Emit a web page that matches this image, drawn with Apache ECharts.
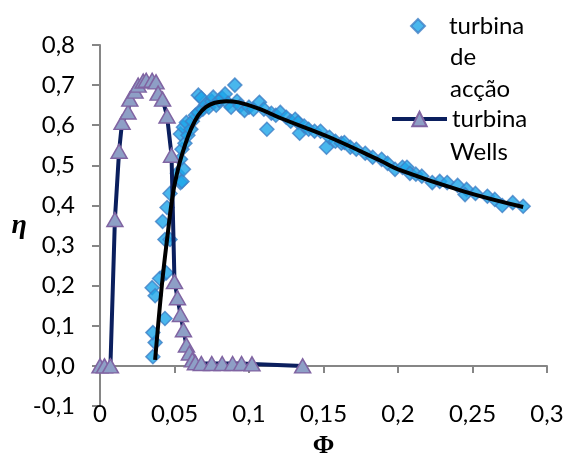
<!DOCTYPE html>
<html>
<head>
<meta charset="utf-8">
<script src="https://cdn.jsdelivr.net/npm/echarts@6/dist/echarts.min.js"></script>
<style>
html,body{margin:0;padding:0;background:#fff;}
#chart{width:564px;height:459px;}
</style>
</head>
<body>
<div id="chart"></div>
<script>
// ---- Data ----
var actionName = 'turbina de acção';
var wellsName = 'turbina Wells';

var actionPhi = [0.0355,0.037,0.0355,0.0436,0.035,0.037,0.040,0.0445,0.0436,0.047,0.042,0.045,0.047,0.052,0.054,0.055,0.056,0.054,0.055,0.054,0.056,0.058,
  0.057,0.059,0.061,0.062,0.064,0.066,0.066,0.068,0.069,0.071,0.073,0.075,0.076,0.078,0.080,0.082,0.084,0.086,0.088,0.0905,0.092,0.094,0.097,0.100,0.103,0.107,0.110,0.112,0.115,0.118,0.121,0.125,0.128,0.131,0.133,0.134,0.137,0.140,0.144,0.148,0.152,
  0.154,0.158,0.162,0.164,0.168,0.172,0.178,0.183,0.189,0.193,0.198,0.203,0.206,0.208,0.212,0.216,0.223,0.228,0.233,0.240,0.246,0.245,0.252,0.260,0.265,0.270,0.277,0.284];
var actionEta = [0.023,0.058,0.083,0.118,0.195,0.175,0.218,0.232,0.315,0.315,0.36,0.395,0.43,0.48,0.457,0.46,0.49,0.515,0.54,0.578,0.595,0.607,
  0.555,0.575,0.59,0.61,0.625,0.632,0.675,0.668,0.64,0.652,0.645,0.66,0.67,0.65,0.662,0.668,0.678,0.655,0.645,0.70,0.66,0.648,0.637,0.645,0.64,0.657,0.64,0.59,0.63,0.625,0.632,0.62,0.61,0.615,0.607,0.58,0.598,0.59,0.585,0.585,0.545,
  0.57,0.56,0.555,0.557,0.545,0.54,0.53,0.52,0.515,0.505,0.49,0.495,0.495,0.48,0.478,0.473,0.457,0.46,0.457,0.45,0.44,0.427,0.43,0.423,0.415,0.40,0.407,0.398];

var wellsPhi = [0,0.003,0.007,0.010,0.0128,0.0148,0.0188,0.020,0.0235,0.0256,0.029,0.031,0.035,0.0376,0.039,0.042,0.045,0.048,0.050,0.052,0.054,0.056,0.058,0.060,0.062,0.064,0.068,0.075,0.082,0.089,0.095,0.102,0.136];
var wellsEta = [0,0,0,0.365,0.535,0.607,0.633,0.665,0.685,0.70,0.71,0.712,0.712,0.708,0.68,0.665,0.623,0.525,0.21,0.17,0.128,0.09,0.052,0.032,0.015,0.008,0.006,0.006,0.006,0.006,0.006,0.005,0.0];

var trendPhi = [0.037,0.0415,0.045,0.049,0.053,0.057,0.061,0.066,0.071,0.077,0.085,0.093,0.107,0.121,0.154,0.188,0.200,0.244,0.284];
var trendEta = [0.015,0.2,0.315,0.43,0.5,0.55,0.59,0.625,0.645,0.656,0.66,0.657,0.641,0.618,0.57,0.512,0.49,0.435,0.396];

var xTickLabels = ['0','0,05','0,1','0,15','0,2','0,25','0,3'];
var yTickLabels = ['-0,1','0,0','0,1','0,2','0,3','0,4','0,5','0,6','0,7','0,8'];
var legendExtra1 = ['de','acção'];
var legendExtra2 = ['Wells'];

function zip(a,b){ return a.map(function(v,i){ return [v,b[i]]; }); }

var FONT = 'Lato';
var chart = echarts.init(document.getElementById('chart'), null, {renderer:'canvas'});
var option = {
  animation:false,
  backgroundColor:'#fff',
  textStyle:{fontFamily:FONT},
  grid:{left:100,right:17,top:45,bottom:53,containLabel:false,outerBoundsMode:'none'},
  xAxis:{
    type:'value',min:0,max:0.3,interval:0.05,
    name:'Φ',nameLocation:'middle',nameGap:27,
    nameTextStyle:{fontFamily:'Liberation Serif',fontWeight:'bold',fontSize:26,color:'#000'},
    axisLine:{onZero:true,lineStyle:{color:'#868686',width:2}},
    axisTick:{show:true,inside:false,length:7,lineStyle:{color:'#868686',width:2}},
    axisLabel:{margin:-4,fontSize:24,color:'#000',fontFamily:FONT,
      formatter:function(v,i){ return xTickLabels[i]; }},
    splitLine:{show:false}
  },
  yAxis:{
    type:'value',min:-0.1,max:0.8,interval:0.1,
    name:'η',nameLocation:'middle',nameGap:71,nameRotate:0,
    nameTextStyle:{fontFamily:'Liberation Serif',fontWeight:'bold',fontStyle:'italic',fontSize:28,color:'#000'},
    axisLine:{onZero:false,lineStyle:{color:'#868686',width:2}},
    axisTick:{show:true,inside:false,length:8,lineStyle:{color:'#868686',width:2}},
    axisLabel:{margin:25,fontSize:24,color:'#000',fontFamily:FONT,
      formatter:function(v,i){ return yTickLabels[i]; }},
    splitLine:{show:false}
  },
  legend:[
    {data:[actionName],left:410,top:14,padding:0,orient:'vertical',itemWidth:14,itemHeight:14,
     formatter:function(){ return 'turbina'; },
     textStyle:{fontSize:24,color:'#000',fontFamily:FONT,padding:[0,0,0,19]}},
    {data:[wellsName],left:390,top:107,padding:0,orient:'vertical',itemWidth:55,itemHeight:18,
     lineStyle:{width:4},
     formatter:function(){ return 'turbina'; },
     textStyle:{fontSize:24,color:'#000',fontFamily:FONT}}
  ],
  graphic:[
    {type:'text',left:450,top:45,style:{text:legendExtra1[0],font:'24px '+FONT,fill:'#000'}},
    {type:'text',left:450,top:77,style:{text:legendExtra1[1],font:'24px '+FONT,fill:'#000'}},
    {type:'text',left:450,top:140,style:{text:legendExtra2[0],font:'24px '+FONT,fill:'#000'}}
  ],
  series:[
    {name:actionName,type:'scatter',data:zip(actionPhi,actionEta),symbol:'diamond',symbolSize:14,
     itemStyle:{color:'#1CA5E8',borderColor:'#3E80C6',borderWidth:1.5},z:2},
    {name:wellsName,type:'line',data:zip(wellsPhi,wellsEta),symbol:'triangle',symbolSize:[16,14],
     showAllSymbol:true,
     lineStyle:{color:'#0B1F5E',width:4},
     itemStyle:{color:'#8E9FC6',borderColor:'#8064A2',borderWidth:1.5},z:3},
    {name:'tendência',type:'line',data:zip(trendPhi,trendEta),smooth:0.4,symbol:'none',
     lineStyle:{color:'#000',width:4},z:4,silent:true}
  ]
};
chart.setOption(option);
</script>
</body>
</html>
